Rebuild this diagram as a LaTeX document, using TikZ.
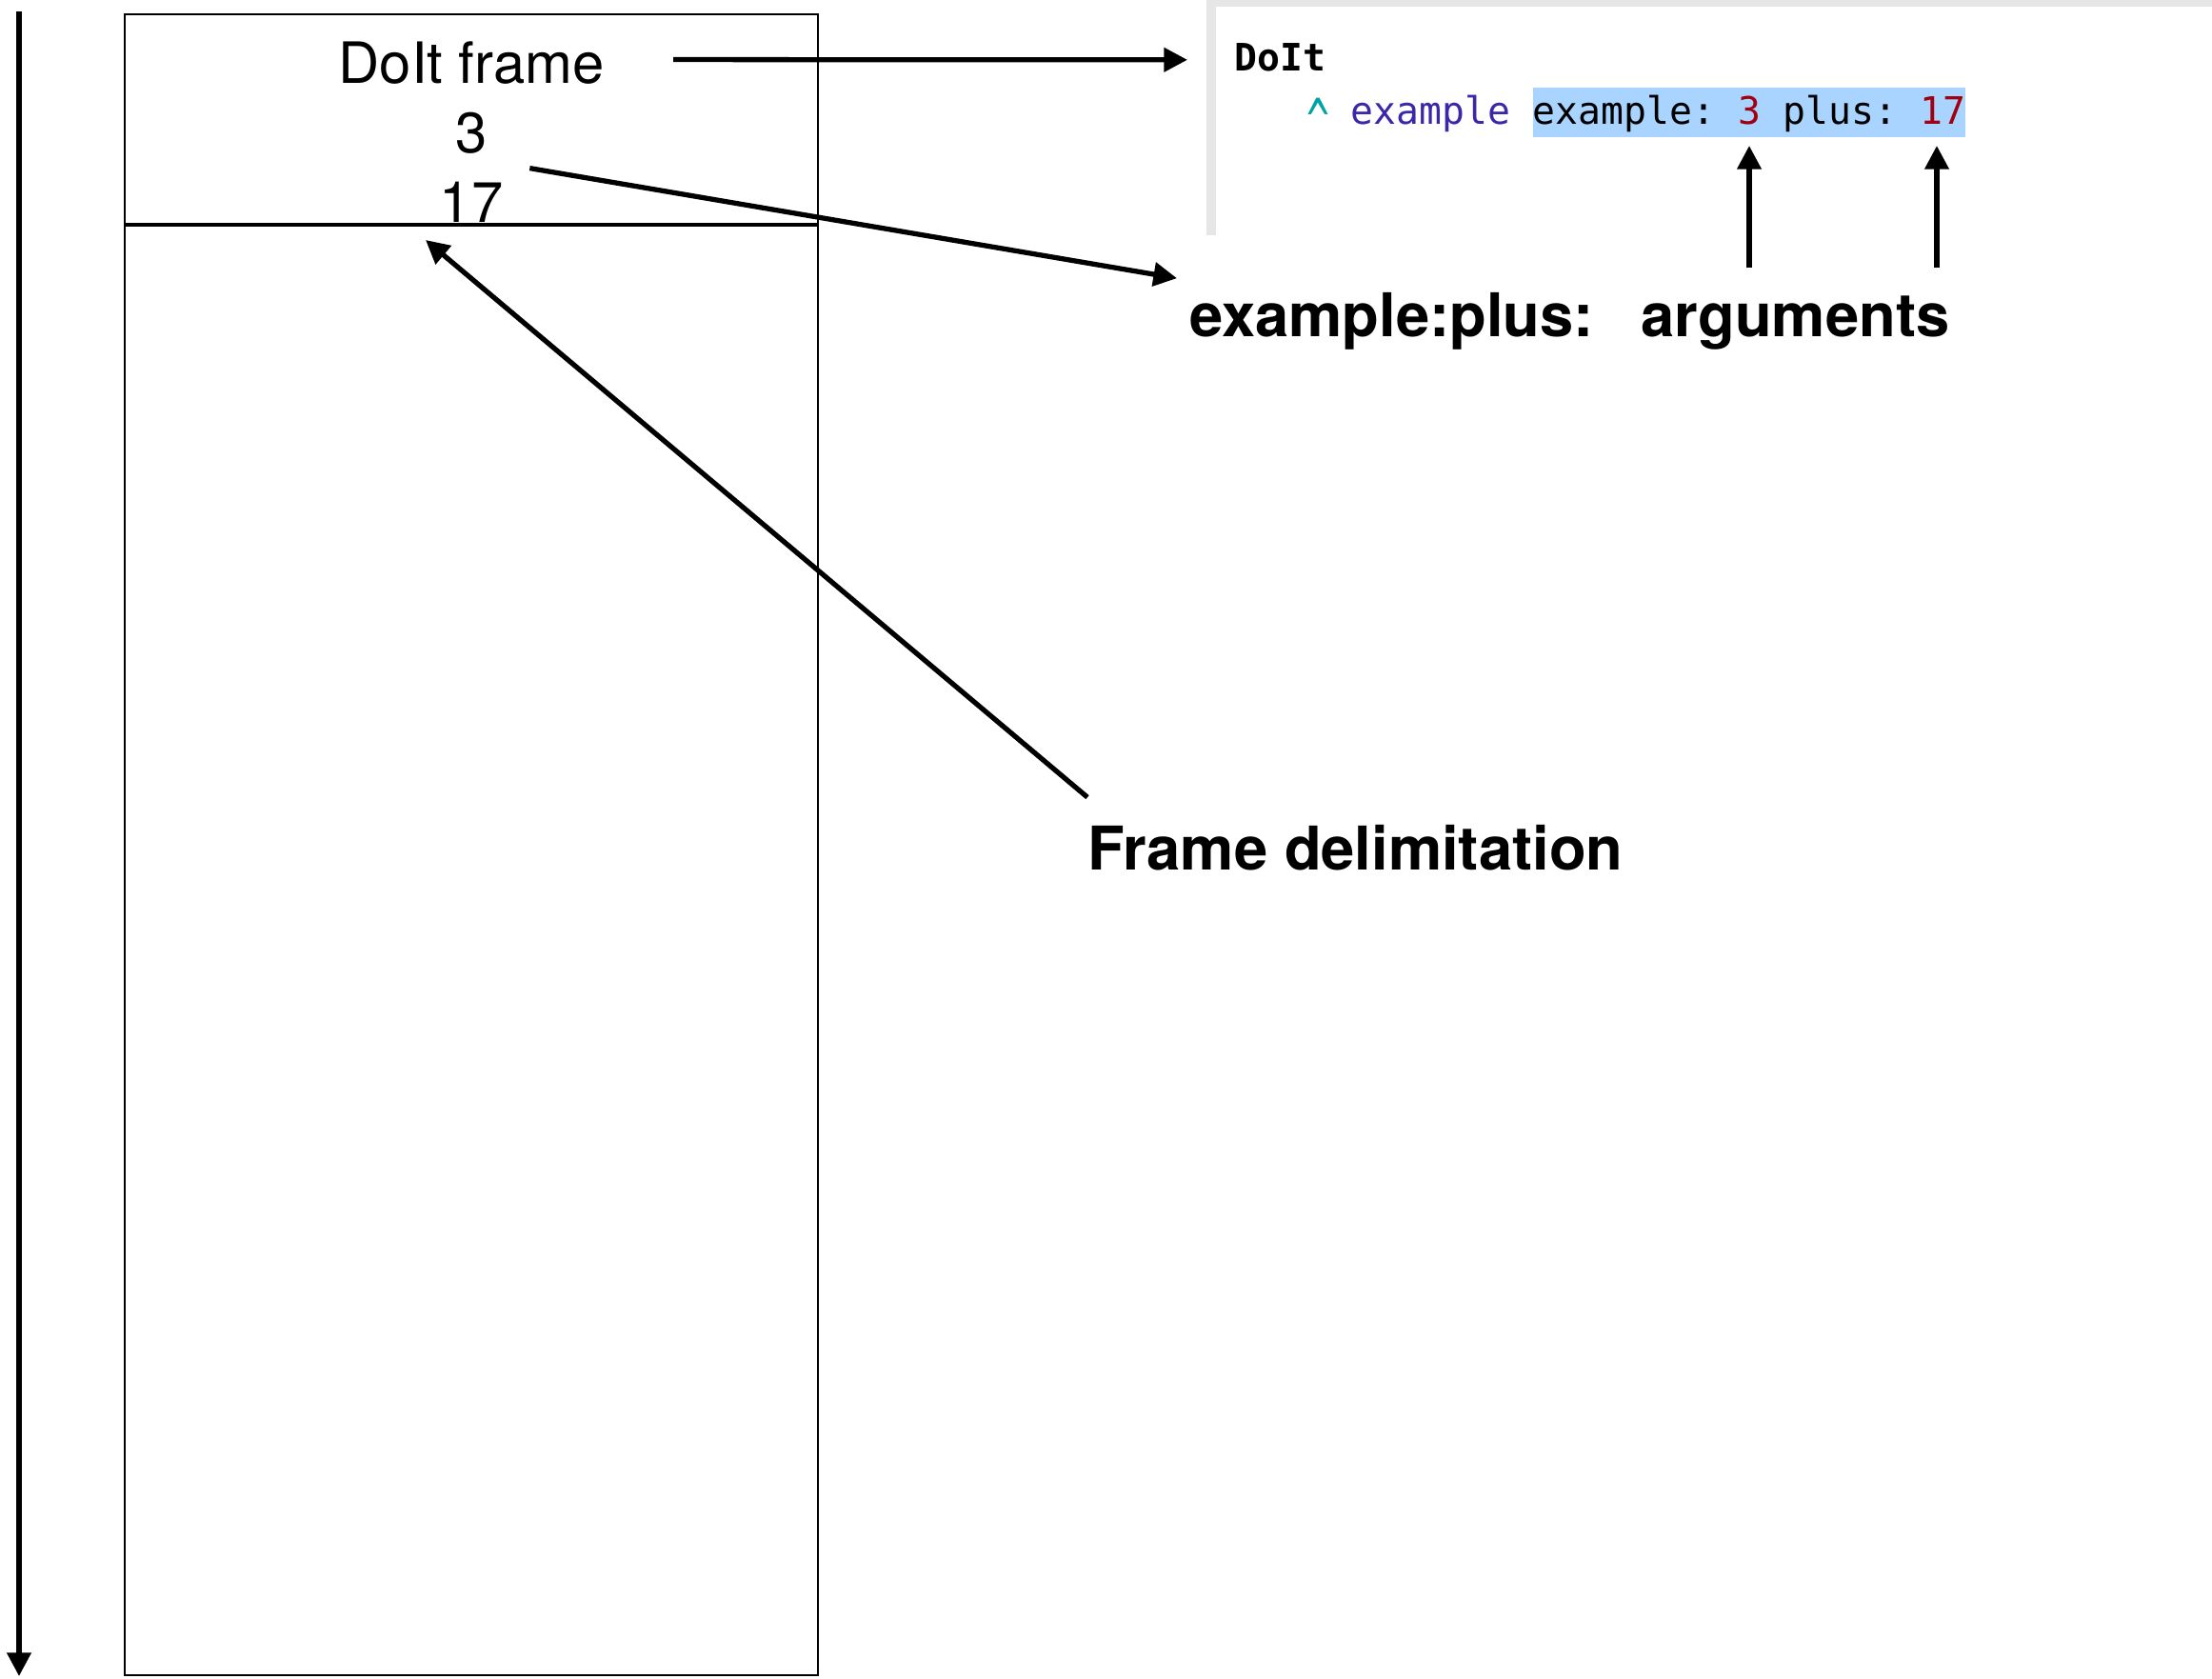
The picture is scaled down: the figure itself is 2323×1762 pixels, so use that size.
\documentclass[tikz,border=0pt]{standalone}
\usepackage{fontspec}
\usepackage{graphicx}
\setmainfont{TeX Gyre Heros}
\newfontfamily\codefont{DejaVu Sans Mono}
\usetikzlibrary{arrows.meta,calc,positioning}
\definecolor{hlblue}{HTML}{A9D4FF}
\definecolor{selpurple}{HTML}{3A28A8}
\definecolor{numred}{HTML}{A0000F}
\definecolor{caretteal}{HTML}{00A3A3}
\definecolor{panelgray}{HTML}{E6E6E6}

\begin{document}
\begin{tikzpicture}[x=0.01cm, y=-0.01cm,
    arr/.style={line width=1.5pt, -{Triangle[length=7pt,width=7pt]}},
    stacktext/.style={inner sep=0pt, anchor=base, font=\fontsize{17}{20}\selectfont},
    callout/.style={inner sep=0pt, anchor=base west, font=\fontsize{18}{21}\selectfont\bfseries},
    code/.style={inner sep=0pt, anchor=base west, font=\codefont\fontsize{11.3}{13}\selectfont\frenchspacing}]

    \useasboundingbox (0,0) rectangle (2323,1762);

    % Time axis
    \coordinate (timetop) at (20,12);
    \coordinate (timebottom) at (20,1760);
    \draw[arr] (timetop) -- (timebottom);

    % Stack and frame delimitation
    \draw[line width=0.5pt] (131,15) rectangle (859,1759);
    \draw[line width=1.25pt] (131,236) -- (859,236);
    \coordinate (border) at (447,252);

    % Frame contents
    \node[stacktext] (doitframe) at (495,87) {DoIt frame};
    \node[stacktext] (argthree) at (495,160) {3};
    \node[stacktext] (argseventeen) at (495,233) {17};

    % Code panel
    \fill[panelgray] (1267,0) rectangle (2323,7);
    \fill[panelgray] (1267,0) rectangle (1277,247);
    \node[code] (doitcode) at (1296,74) {\bfseries DoIt};
    \node[code, text=caretteal] (caret) at (1372,149) {\scalebox{1}[1.6]{\textasciicircum}};
    \node[code, text=selpurple] (unary) at (1418,130) {example};
    \node[code, fill=hlblue, text height=10.8pt, text depth=4pt] (hlcode) at (1609,130)
        {example: \textcolor{numred}{3} plus: \textcolor{numred}{17}};

    % Labels
    \node[callout] (selectorlbl) at (1249,353) {example:plus:};
    \node[callout] (argslbl) at (1723,353) {arguments};
    \node[callout] (delimlbl) at (1142,913) {Frame delimitation};

    % Arrows
    \draw[arr] ($(doitframe.east)+(72,-3)$) -- ($(doitcode.west)+(-49,3)$);
    \draw[arr] ($(argthree.south east)+(44,15)$) -- ($(selectorlbl.north west)+(-13,-14)$);
    \draw[arr] ($(delimlbl.north west)+(0,-28)$) -- (border);
    \draw[arr] ($(argslbl.base west)+(114,-72)$) -- ++(0,-128);
    \draw[arr] ($(argslbl.base west)+(311,-72)$) -- ++(0,-128);

\end{tikzpicture}
\end{document}
